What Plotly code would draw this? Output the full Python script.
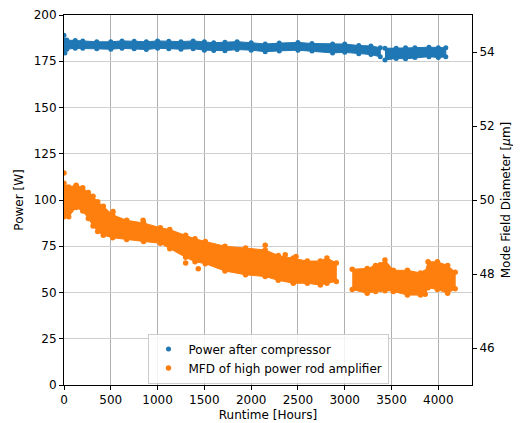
import plotly.graph_objects as go

# ---- Power after compressor [W] (left axis): band envelope ----
power_hours_a = [0, 30, 120, 200, 350, 500, 620, 750, 880, 1000, 1120, 1250, 1380, 1500, 1600, 1720,
                 1850, 2000, 2150, 2300, 2500, 2650, 2870, 3000, 3150, 3280, 3380]
power_upper_a = [186.5, 186.5, 186.2, 186.0, 185.5, 185.5, 186.0, 185.8, 185.5, 186.0, 185.8, 185.6,
                 186.0, 185.5, 185.0, 185.3, 185.6, 185.0, 184.3, 184.8, 185.2, 184.6, 184.3, 184.3,
                 183.5, 183.3, 182.3]
power_lower_a = [181.0, 181.5, 182.0, 182.0, 181.8, 181.5, 182.0, 181.8, 181.3, 182.0, 181.8, 181.5,
                 181.8, 181.0, 180.8, 180.7, 181.3, 181.0, 180.2, 180.6, 181.0, 180.5, 179.5, 179.8,
                 179.0, 178.6, 177.4]
power_hours_b = [3430, 3550, 3650, 3750, 3900, 4000, 4080]
power_upper_b = [182.0, 182.0, 182.3, 182.3, 182.6, 182.3, 182.3]
power_lower_b = [175.7, 176.5, 176.3, 177.0, 177.5, 177.0, 177.4]
power_out_h = [0, 0, 10]
power_out_v = [189.0, 180.0, 179.5]

# ---- MFD of high power rod amplifier [um] (right axis) ----
mfd_hours_a = [0, 50, 130, 200, 260, 310, 360, 420, 520, 670, 850, 1030, 1130, 1300, 1400, 1510,
               1720, 1940, 2150, 2290, 2450, 2600, 2740, 2810, 2910]
mfd_upper_a = [50.45, 50.35, 50.40, 50.33, 50.20, 50.10, 49.95, 49.83, 49.60, 49.45, 49.38, 49.25,
               49.20, 49.05, 48.95, 48.88, 48.75, 48.70, 48.65, 48.50, 48.43, 48.35, 48.35, 48.43, 48.30]
mfd_lower_a = [49.55, 49.55, 49.80, 49.70, 49.50, 49.30, 49.15, 49.05, 48.98, 48.93, 48.88, 48.83,
               48.68, 48.45, 48.33, 48.28, 48.08, 47.98, 47.93, 47.83, 47.75, 47.75, 47.70, 47.75, 47.80]
mfd_hours_b = [3080, 3240, 3330, 3380, 3430, 3520, 3670, 3810, 3860, 3890, 3990, 4100, 4180]
mfd_upper_b = [48.13, 48.15, 48.23, 48.25, 48.38, 48.10, 48.10, 48.03, 48.05, 48.33, 48.33, 48.23, 48.05]
mfd_lower_b = [47.58, 47.48, 47.53, 47.58, 47.55, 47.53, 47.43, 47.43, 47.45, 47.63, 47.58, 47.48, 47.60]
mfd_out_h = [0, 524, 845, 1300, 1435, 2150, 2364, 2480, 3326]
mfd_out_v = [50.73, 49.69, 49.45, 48.30, 48.14, 48.78, 48.52, 48.47, 48.20]

BLUE = "#1f77b4"
ORANGE = "#ff7f0e"

fig = go.Figure()


def band(h, up, lo, color, yaxis):
    fig.add_trace(go.Scatter(
        x=list(h) + list(h)[::-1], y=list(up) + list(lo)[::-1],
        mode="lines", fill="toself", fillcolor=color,
        line=dict(color=color, width=1), showlegend=False, hoverinfo="skip", yaxis=yaxis))


band(power_hours_a, power_upper_a, power_lower_a, BLUE, "y")
band(power_hours_b, power_upper_b, power_lower_b, BLUE, "y")
fig.add_trace(go.Scatter(
    x=power_hours_a + power_hours_a + power_hours_b + power_hours_b + power_out_h,
    y=power_upper_a + power_lower_a + power_upper_b + power_lower_b + power_out_v,
    mode="markers", marker=dict(color=BLUE, size=5), name="Power after compressor", yaxis="y"))

band(mfd_hours_a, mfd_upper_a, mfd_lower_a, ORANGE, "y2")
band(mfd_hours_b, mfd_upper_b, mfd_lower_b, ORANGE, "y2")
fig.add_trace(go.Scatter(
    x=mfd_hours_a + mfd_hours_a + mfd_hours_b + mfd_hours_b + mfd_out_h,
    y=mfd_upper_a + mfd_lower_a + mfd_upper_b + mfd_lower_b + mfd_out_v,
    mode="markers", marker=dict(color=ORANGE, size=5.5),
    name="MFD of high power rod amplifier", yaxis="y2"))

# page body has an 8px margin: shrink figure so the plot area lands at 64..472 x 15..385
tfont = dict(family="DejaVu Sans", size=12, color="black")
fig.update_layout(
    width=513, height=415,
    margin=dict(l=56, r=49, t=7, b=38),
    paper_bgcolor="white", plot_bgcolor="white",
    font=dict(family="DejaVu Sans", size=12, color="black"),
    xaxis=dict(range=[0, 4360], tickvals=[0, 500, 1000, 1500, 2000, 2500, 3000, 3500, 4000],
               showgrid=True, gridcolor="#b0b0b0", gridwidth=1, zeroline=False,
               showline=True, linecolor="black", linewidth=1, mirror=True,
               ticks="outside", ticklen=4, tickcolor="black", automargin=False,
               title=dict(text="Runtime [Hours]", standoff=4, font=tfont)),
    yaxis=dict(range=[0, 200], tickvals=[0, 25, 50, 75, 100, 125, 150, 175, 200],
               showgrid=True, gridcolor="#cfcfcf", gridwidth=1, zeroline=False,
               showline=True, linecolor="black", linewidth=1,
               ticks="outside", ticklen=4, tickcolor="black", automargin=False,
               title=dict(text="Power [W]", standoff=7, font=tfont)),
    yaxis2=dict(range=[45, 55], tickvals=[46, 48, 50, 52, 54], overlaying="y", side="right",
                showgrid=False, zeroline=False,
                showline=True, linecolor="black", linewidth=1,
                ticks="outside", ticklen=4, tickcolor="black", automargin=False,
                title=dict(text="Mode Field Diameter [<i>μ</i>m]", standoff=7, font=tfont)),
    legend=dict(x=0.5, y=0.004, xanchor="center", yanchor="bottom",
                bgcolor="rgba(255,255,255,0.85)", bordercolor="#cccccc", borderwidth=1,
                font=dict(family="DejaVu Sans", size=12), itemwidth=30, tracegroupgap=0),
)

fig.write_html("out.html")
